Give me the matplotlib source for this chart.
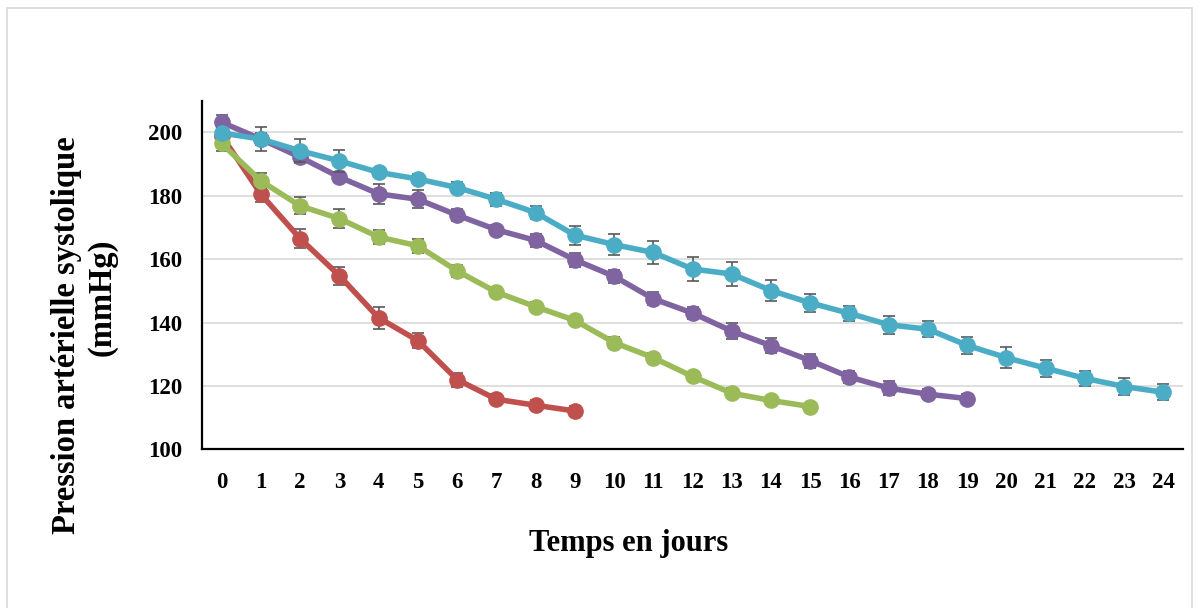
import matplotlib
matplotlib.use("Agg")
import matplotlib.pyplot as plt
from matplotlib.patches import Rectangle

# ---- data ----
days = list(range(25))
tick_labels = [str(d) for d in days]

red = [199.0, 180.5, 166.5, 154.8, 141.5, 134.3, 122.0, 115.8, 113.9, 112.1]
red_err = [1.5, 2.4, 3.1, 2.8, 3.4, 2.4, 2.2, 1.5, 1.5, 1.5]

green = [196.5, 184.7, 176.8, 172.8, 167.0, 164.2, 156.3, 149.6, 145.0, 140.7,
         133.7, 128.9, 123.0, 117.7, 115.4, 113.5]
green_err = [2.4, 2.4, 2.7, 2.9, 2.2, 2.2, 1.8, 1.5, 1.5, 1.5,
             1.8, 1.5, 1.5, 1.5, 1.2, 1.2]

purple = [203.2, 197.9, 192.2, 185.9, 180.6, 178.9, 173.9, 169.3, 165.9, 159.8,
          154.6, 147.5, 143.0, 137.3, 132.7, 128.0, 122.8, 119.3, 117.4, 116.0]
purple_err = [2.4, 1.8, 1.8, 1.5, 3.2, 2.9, 1.8, 1.5, 2.0, 2.2,
              2.0, 2.0, 1.8, 2.4, 2.4, 2.2, 2.0, 2.2, 1.5, 1.5]

cyan = [199.8, 197.9, 194.2, 191.0, 187.4, 185.3, 182.6, 178.9, 174.7, 167.6,
        164.6, 162.1, 156.9, 155.3, 150.1, 146.2, 142.9, 139.3, 137.9, 132.8,
        128.9, 125.6, 122.4, 119.8, 118.0]
cyan_err = [1.5, 3.9, 3.6, 3.4, 1.5, 1.5, 1.8, 2.1, 2.1, 3.0,
            3.4, 3.5, 3.9, 3.9, 3.2, 2.9, 2.4, 2.9, 2.5, 2.6,
            3.3, 2.7, 2.4, 2.8, 2.6]

series = [
    (red, red_err, "#C0504D"),
    (green, green_err, "#9BBB59"),
    (purple, purple_err, "#8064A2"),
    (cyan, cyan_err, "#4BACC6"),
]

yticks = [100, 120, 140, 160, 180, 200]

# ---- figure ----
plt.rcParams['font.family'] = ['Liberation Serif', 'DejaVu Serif']
fig = plt.figure(figsize=(12, 6.08), dpi=100)
fig.patch.set_facecolor("white")

# chart-area border
fig.add_artist(Rectangle((7 / 1200, -5 / 608), 1185 / 1200, 605 / 608,
                         transform=fig.transFigure, fill=False,
                         edgecolor="#D9D9D9", linewidth=1.2))

ax = fig.add_axes([202 / 1200, 158.7 / 608, 981 / 1200, 348.6 / 608])

for i, (vals, errs, col) in enumerate(series):
    x = days[:len(vals)]
    ax.errorbar(x, vals, yerr=errs, fmt="none", ecolor="#595959",
                elinewidth=1.2, capsize=4, capthick=1.2, zorder=3 + 2 * i)
    ax.plot(x, vals, color=col, linewidth=4.0, marker="o", markersize=11,
            zorder=4 + 2 * i, solid_capstyle="round")

ax.set_xlim(-0.5, 24.5)
ax.set_ylim(100, 210)
ax.set_xticks(days)
ax.set_xticklabels(tick_labels)
ax.set_yticks(yticks)
ax.tick_params(axis="y", length=0, labelsize=16.5, pad=14)
ax.tick_params(axis="x", length=0, labelsize=16.5, pad=16)
for lbl in ax.get_xticklabels() + ax.get_yticklabels():
    lbl.set_fontweight("bold")

ax.grid(axis="y", color="#D9D9D9", linewidth=1.2, zorder=0)
ax.set_axisbelow(True)
for s in ["top", "right"]:
    ax.spines[s].set_visible(False)
for s in ["left", "bottom"]:
    ax.spines[s].set_linewidth(1.6)
    ax.spines[s].set_color("black")

fig.text(67 / 1200, 1 - 335 / 608, "Pression artérielle systolique",
         rotation=90, ha="center", va="center", fontsize=23.5, fontweight="bold")
fig.text(102 / 1200, 1 - 297 / 608, "(mmHg)",
         rotation=90, ha="center", va="center", fontsize=23.5, fontweight="bold")
fig.text(629 / 1200, 1 - 543 / 608, "Temps en jours",
         ha="center", va="center", fontsize=22, fontweight="bold")

fig.savefig("out.png", dpi=100)
